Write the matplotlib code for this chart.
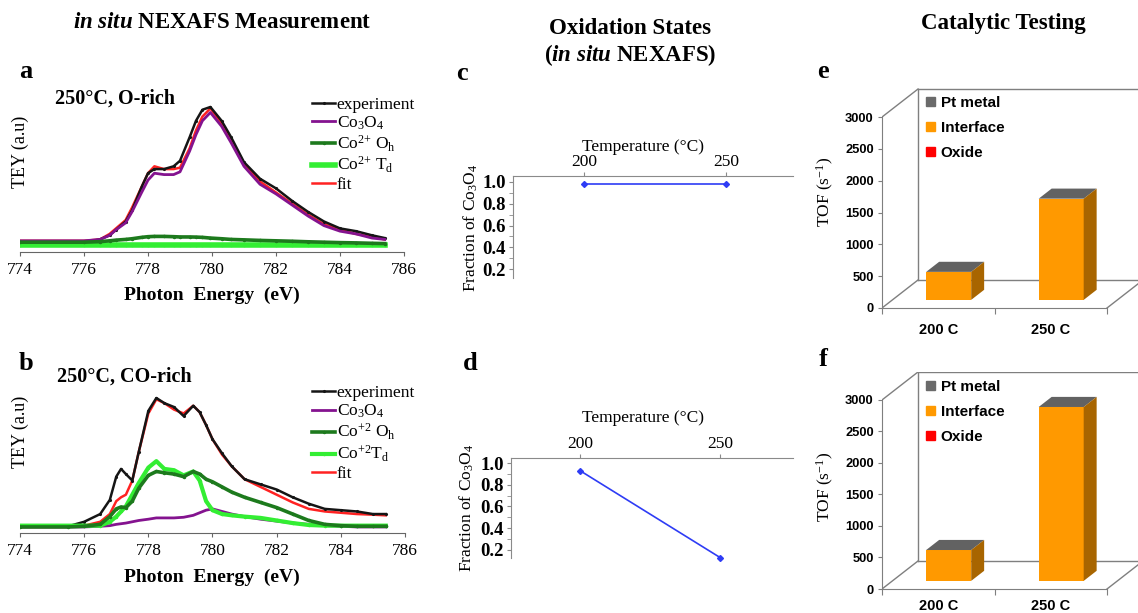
import numpy as np
import matplotlib
matplotlib.use('Agg')
import matplotlib.pyplot as plt
from matplotlib.patches import Patch

# ---------------- data ----------------
# Panel a (250 C, O-rich) photon energy (eV) and normalised TEY
energy_a = [774.0, 776.0, 776.5, 776.8, 777.0, 777.3, 777.5, 777.8, 778.0, 778.2,
            778.5, 778.8, 779.0, 779.3, 779.5, 779.7, 779.95, 780.3, 780.6, 781.0,
            781.5, 782.0, 782.5, 783.0, 783.5, 784.0, 784.5, 785.0, 785.4]
exp_a = [0.00, 0.02, 0.04, 0.07, 0.11, 0.17, 0.25, 0.42, 0.52, 0.55,
         0.55, 0.57, 0.61, 0.78, 0.90, 0.98, 1.00, 0.90, 0.78, 0.60,
         0.48, 0.41, 0.32, 0.24, 0.17, 0.12, 0.10, 0.07, 0.05]
co3o4_a = [0.03, 0.03, 0.04, 0.07, 0.11, 0.16, 0.24, 0.38, 0.47, 0.52,
           0.51, 0.51, 0.53, 0.68, 0.80, 0.90, 0.96, 0.86, 0.74, 0.57,
           0.44, 0.37, 0.29, 0.21, 0.14, 0.10, 0.08, 0.05, 0.04]
oh_a = [0.02, 0.02, 0.024, 0.03, 0.035, 0.04, 0.045, 0.055, 0.06, 0.062,
        0.062, 0.06, 0.058, 0.058, 0.057, 0.055, 0.05, 0.045, 0.04, 0.037,
        0.033, 0.03, 0.027, 0.023, 0.02, 0.017, 0.015, 0.012, 0.01]
td_a = [0.0, 0.0, 0.0, 0.0, 0.0, 0.0, 0.0, 0.0, 0.0, 0.0,
        0.0, 0.0, 0.0, 0.0, 0.0, 0.0, 0.0, 0.0, 0.0, 0.0,
        0.0, 0.0, 0.0, 0.0, 0.0, 0.0, 0.0, 0.0, 0.0]
fit_a = [0.03, 0.03, 0.04, 0.08, 0.12, 0.18, 0.27, 0.42, 0.52, 0.57,
         0.55, 0.55, 0.56, 0.70, 0.83, 0.93, 0.99, 0.88, 0.76, 0.59,
         0.46, 0.38, 0.30, 0.22, 0.15, 0.11, 0.08, 0.06, 0.04]

# Panel b (250 C, CO-rich)
energy_b = [774.0, 775.5, 776.0, 776.5, 776.8, 777.0, 777.15, 777.3, 777.5, 777.7,
            778.0, 778.25, 778.5, 778.8, 779.1, 779.4, 779.6, 779.8, 780.0, 780.3,
            780.6, 781.0, 781.5, 782.0, 782.5, 783.0, 783.5, 784.0, 784.5, 785.0, 785.4]
exp_b = [0.00, 0.005, 0.04, 0.10, 0.21, 0.39, 0.45, 0.41, 0.36, 0.58,
         0.90, 1.00, 0.96, 0.93, 0.86, 0.94, 0.89, 0.79, 0.68, 0.57,
         0.47, 0.37, 0.33, 0.29, 0.23, 0.18, 0.14, 0.13, 0.12, 0.10, 0.10]
co3o4_b = [0.0, 0.0, 0.0, 0.005, 0.01, 0.02, 0.025, 0.03, 0.04, 0.05,
           0.06, 0.07, 0.07, 0.07, 0.075, 0.09, 0.11, 0.13, 0.14, 0.12,
           0.10, 0.08, 0.06, 0.045, 0.03, 0.02, 0.01, 0.005, 0.0, 0.0, 0.0]
oh_b = [0.0, 0.0, 0.005, 0.02, 0.08, 0.14, 0.155, 0.15, 0.20, 0.30,
        0.40, 0.43, 0.42, 0.41, 0.39, 0.43, 0.41, 0.37, 0.35, 0.31,
        0.27, 0.23, 0.19, 0.15, 0.10, 0.05, 0.02, 0.01, 0.005, 0.005, 0.005]
td_b = [0.01, 0.01, 0.01, 0.01, 0.04, 0.08, 0.12, 0.16, 0.25, 0.34,
        0.46, 0.51, 0.45, 0.44, 0.40, 0.43, 0.36, 0.20, 0.13, 0.10,
        0.09, 0.08, 0.07, 0.05, 0.03, 0.015, 0.01, 0.01, 0.01, 0.01, 0.01]
fit_b = [0.0, 0.0, 0.01, 0.04, 0.10, 0.20, 0.23, 0.25, 0.36, 0.58,
         0.88, 0.99, 0.96, 0.91, 0.88, 0.94, 0.89, 0.79, 0.68, 0.56,
         0.47, 0.37, 0.31, 0.25, 0.19, 0.14, 0.12, 0.11, 0.10, 0.095, 0.09]

energy_ticks = [774, 776, 778, 780, 782, 784, 786]

# Panels c, d: fraction of Co3O4 vs temperature
temps = [200, 250]
frac_c = [0.98, 0.98]
frac_d = [0.93, 0.13]
frac_ticks = [0.2, 0.4, 0.6, 0.8, 1.0]

# Panels e, f: TOF (s^-1)
bar_cats = ['200 C', '250 C']
tof_e = [440, 1590]
tof_f = [490, 2760]
tof_ticks = [0, 500, 1000, 1500, 2000, 2500, 3000]
legend_ef = ['Pt metal', 'Interface', 'Oxide']

# ---------------- style ----------------
SERIF = ['Liberation Serif', 'DejaVu Serif']
SANS = ['Liberation Sans', 'DejaVu Sans']
plt.rcParams['font.family'] = SERIF
plt.rcParams['mathtext.fontset'] = 'custom'
plt.rcParams['mathtext.rm'] = 'Liberation Serif'
plt.rcParams['mathtext.it'] = 'Liberation Serif:italic'
plt.rcParams['mathtext.bf'] = 'Liberation Serif:bold'
try:
    plt.rcParams['mathtext.bfit'] = 'Liberation Serif:italic:bold'
    BFIT = True
except KeyError:
    BFIT = False

W, H = 1138, 613
fig = plt.figure(figsize=(W / 100, H / 100), dpi=100)


def rect(l, t, r, b):
    return [l / W, 1 - b / H, (r - l) / W, (b - t) / H]


def ftext(x, y, s, **kw):
    kw.setdefault('ha', 'center')
    kw.setdefault('va', 'center')
    return fig.text(x / W, 1 - y / H, s, **kw)


C_EXP = '#151515'
C_PUR = '#84138F'
C_OH = '#1D7A1D'
C_TD = '#33EE33'
C_FIT = '#FF2222'

insitu = r'$\mathbfit{in\ situ}$' if BFIT else r'$\mathit{in\ situ}$'

# titles
ftext(222, 23, insitu + ' NEXAFS Measurement', fontsize=16.5, fontweight='bold')
ftext(630, 28, 'Oxidation States', fontsize=16.5, fontweight='bold')
ftext(630, 55, '(' + insitu + ' NEXAFS)', fontsize=16.5, fontweight='bold')
ftext(1003, 23, 'Catalytic Testing', fontsize=16.5, fontweight='bold')

# panel letters
for letter, (x, y) in zip('abcdef', [(26, 72), (26, 363), (462, 73), (470, 363), (823, 72), (823, 360)]):
    ftext(x, y, letter, fontsize=19, fontweight='bold')


# ---------------- spectra panels ----------------
def spectrum(l, t, r, b, ylim, e, exp, co, oh, td, fit, labels, leg_xy, leg_space, title, title_xy, lw_td):
    ax = fig.add_axes(rect(l, t, r, b))
    ax.plot(e, fit, color=C_FIT, lw=1.8, label=labels[4], zorder=2)
    ax.plot(e, exp, color=C_EXP, lw=1.8, marker='.', ms=2.5, label=labels[0], zorder=3)
    ax.plot(e, co, color=C_PUR, lw=2.0, label=labels[1], zorder=4)
    ax.plot(e, oh, color=C_OH, lw=2.6, marker='.', ms=3, label=labels[2], zorder=5)
    ax.plot(e, td, color=C_TD, lw=lw_td, marker='.', ms=3, label=labels[3], zorder=4.5)
    ax.set_xlim(774, 786)
    ax.set_ylim(*ylim)
    for s in ['top', 'right', 'left']:
        ax.spines[s].set_visible(False)
    ax.spines['bottom'].set_color('#666666')
    ax.set_yticks([])
    ax.set_xticks(energy_ticks)
    ax.tick_params(axis='x', labelsize=12.5, length=3, pad=4, color='#666666')
    h, lab = ax.get_legend_handles_labels()
    order = [1, 2, 3, 4, 0]
    ax.legend([h[i] for i in order], [lab[i] for i in order], loc='upper left',
              bbox_to_anchor=(leg_xy[0] / W, 1 - leg_xy[1] / H), bbox_transform=fig.transFigure,
              frameon=False, fontsize=12.5, handlelength=1.35, handletextpad=0.08,
              labelspacing=leg_space, borderpad=0, borderaxespad=0)
    ftext(title_xy[0], title_xy[1], title, fontsize=14.5, fontweight='bold', ha='left')
    return ax


labels_a = ['experiment', r'Co$_3$O$_4$', r'Co$^{2{+}}$ O$_\mathrm{h}$', r'Co$^{2{+}}$ T$_\mathrm{d}$', 'fit']
labels_b = ['experiment', r'Co$_3$O$_4$', r'Co$^{+2}$ O$_\mathrm{h}$', r'Co$^{+2}$T$_\mathrm{d}$', 'fit']

spectrum(20, 90, 404, 252, (-0.051, 1.123), energy_a, exp_a, co3o4_a, oh_a, td_a, fit_a,
         labels_a, (312, 97), 0.08, '250°C, O-rich', (55, 99), 4.0)
spectrum(20, 370, 405, 533, (-0.047, 1.217), energy_b, exp_b, co3o4_b, oh_b, td_b, fit_b,
         labels_b, (312, 385), 0.1, '250°C, CO-rich', (57, 377), 3.0)

for y in (152, 432):
    ftext(20, y, 'TEY (a.u)', fontsize=13, rotation=90)
for y in (295, 577):
    ftext(212, y, 'Photon  Energy  (eV)', fontsize=14, fontweight='bold')


# ---------------- fraction panels ----------------
def frac_panel(l, t, r, b, xlim, ylim, vals, ylab_xy, xlab_y):
    ax = fig.add_axes(rect(l, t, r, b))
    ax.plot(temps, vals, color='#2E3CF5', lw=1.2, marker='D', ms=3, zorder=3, clip_on=False)
    ax.set_xlim(*xlim)
    ax.set_ylim(*ylim)
    ax.spines['right'].set_visible(False)
    ax.spines['bottom'].set_visible(False)
    for s in ['top', 'left']:
        ax.spines[s].set_color('#8a8a8a')
    ax.xaxis.tick_top()
    ax.set_xticks(temps)
    ax.tick_params(axis='x', labelsize=12.5, length=3, pad=1, color='#8a8a8a')
    ax.set_yticks(frac_ticks)
    ax.set_yticklabels(['%.1f' % v for v in frac_ticks], fontweight='bold')
    ax.set_yticks([0.3, 0.5, 0.7, 0.9], minor=True)
    ax.tick_params(axis='y', which='both', labelsize=13.5, length=3, pad=2, color='#8a8a8a')
    ftext(ylab_xy[0], ylab_xy[1], r'Fraction of Co$_3$O$_4$', fontsize=12.5, rotation=90)
    ftext(643, xlab_y, 'Temperature (°C)', fontsize=12.5)
    return ax


frac_panel(513, 176, 793, 278, (175.0, 273.6), (0.119, 1.055), frac_c, (471, 228), 147)
frac_panel(511, 458, 793, 558, (175.4, 276.0), (0.126, 1.046), frac_d, (467, 508), 418)


# ---------------- 3-D style bar panels ----------------
def bar_panel(l, t, r, b, ytop, vals, leg_y, cat_pad):
    ax = fig.add_axes(rect(l, t, r, b))
    px_per_x = 112.5
    xmax = (r - l) / px_per_x
    ax.set_xlim(0, xmax)
    ax.set_ylim(0, ytop)
    ypp = ytop / (b - t)          # data units per pixel
    DX = 36 / px_per_x
    DY = 28 * ypp
    gray = '#7f7f7f'
    kw = dict(color=gray, lw=1.0, zorder=1)
    # walls / floor
    ax.plot([0, DX], [3000, 3000 + DY], **kw)
    ax.plot([0, DX], [0, DY], **kw)
    ax.plot([DX, DX], [DY, 3000 + DY], **kw)
    ax.plot([DX, xmax + 1], [3000 + DY, 3000 + DY], **kw)
    ax.plot([DX, xmax + 1], [DY, DY], **kw)
    ax.plot([2, 2 + DX], [0, DY], **kw)
    # spines
    for s in ['top', 'right']:
        ax.spines[s].set_visible(False)
    for s in ['left', 'bottom']:
        ax.spines[s].set_color(gray)
    ax.spines['left'].set_bounds(0, 3000)
    ax.spines['bottom'].set_bounds(0, 2)
    ax.set_yticks(tof_ticks)
    ax.set_yticklabels([str(v) for v in tof_ticks], fontfamily=SANS, fontweight='bold')
    ax.tick_params(axis='y', labelsize=9.3, length=3, pad=3, color=gray)
    ax.set_xticks([0, 1, 2])
    ax.set_xticklabels([])
    ax.set_xticks([0.5, 1.5], minor=True)
    ax.set_xticklabels(bar_cats, minor=True, fontfamily=SANS, fontweight='bold')
    ax.tick_params(axis='x', which='major', length=4, color=gray)
    ax.tick_params(axis='x', which='minor', length=0, labelsize=10.5, pad=cat_pad)
    # bars
    f0, fd = 0.29, 0.36
    ox, oy = f0 * DX, f0 * DY
    bx, by = fd * DX, fd * DY
    w = 0.4
    centers = np.array([0.5, 1.5]) + ox
    ax.bar(centers, vals, width=w, bottom=oy, color='#FF9900', zorder=3, linewidth=0)
    for c, v in zip(centers, vals):
        x0, x1 = c - w / 2, c + w / 2
        yb, yt = oy, oy + v
        ax.fill([x0, x1, x1 + bx, x0 + bx], [yt, yt, yt + by, yt + by], color='#626262', zorder=3, lw=0)
        ax.fill([x1, x1 + bx, x1 + bx, x1], [yb, yb + by, yt + by, yt], color='#A86500', zorder=3, lw=0)
    handles = [Patch(color='#6a6a6a'), Patch(color='#FF9900'), Patch(color='#FF0000')]
    ax.legend(handles, legend_ef, loc='upper left', bbox_to_anchor=(926 / W, 1 - leg_y / H),
              bbox_transform=fig.transFigure, frameon=False,
              prop=dict(family=SANS, weight='bold', size=11), handlelength=0.6, handleheight=0.6,
              handletextpad=0.35, labelspacing=0.72, borderpad=0, borderaxespad=0)
    return ax


bar_panel(882, 88, 1138, 308, 3456, tof_e, 96, 11)
bar_panel(882, 372, 1138, 589, 3444, tof_f, 380, 7)
for y in (192, 487):
    ftext(825, y, r'TOF (s$^{\mathregular{-1}}$)', fontsize=12.5, rotation=90)

fig.savefig('out.png', dpi=100)
